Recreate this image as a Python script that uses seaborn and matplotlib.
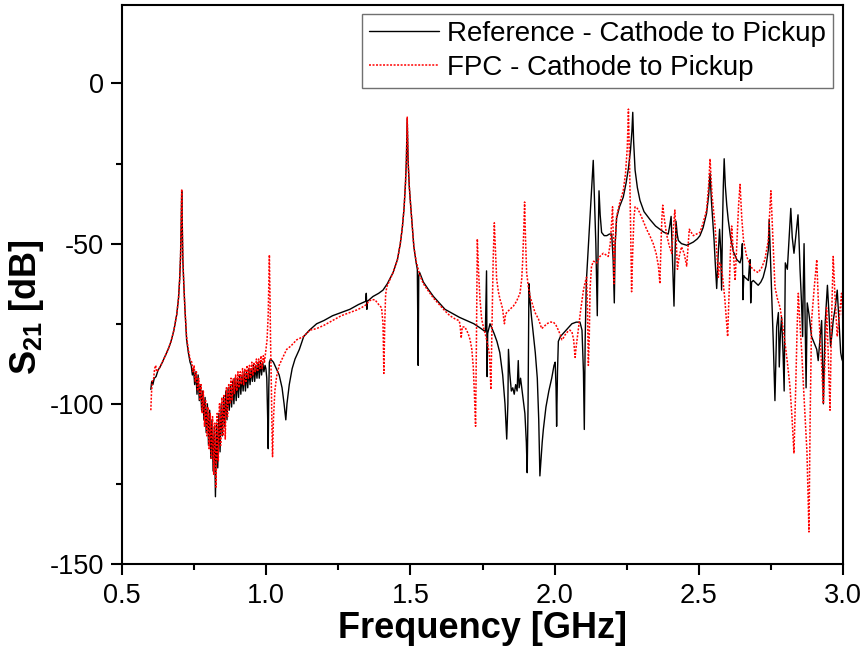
import matplotlib
matplotlib.use("Agg")
import matplotlib.pyplot as plt
from matplotlib.ticker import MultipleLocator, FormatStrFormatter
import pandas as pd
import seaborn as sns

# ---------------------------------------------------------------------------
# Transmission S21 between cathode and pickup: reference vs. FPC structure
# ---------------------------------------------------------------------------
ref_label = "Reference - Cathode to Pickup"
fpc_label = "FPC - Cathode to Pickup"

ref_freq = [
    0.600, 0.603, 0.607, 0.612, 0.618, 0.625, 0.632, 0.640, 0.650, 0.660,
    0.670, 0.680, 0.690, 0.696, 0.700, 0.703, 0.705, 0.707, 0.709, 0.711,
    0.714, 0.718, 0.724, 0.730, 0.736,
    0.740, 0.744, 0.748, 0.752, 0.756, 0.760, 0.764, 0.768, 0.772, 0.776,
    0.780, 0.784, 0.788, 0.792, 0.796, 0.800, 0.804, 0.808, 0.812, 0.816,
    0.820, 0.824, 0.828, 0.832, 0.836, 0.840, 0.844, 0.848, 0.852, 0.856,
    0.860, 0.864, 0.868, 0.872, 0.876, 0.880, 0.884, 0.888, 0.892, 0.896,
    0.900, 0.904, 0.908, 0.912, 0.916, 0.920, 0.924, 0.928, 0.932, 0.936,
    0.940, 0.944, 0.948, 0.952, 0.956, 0.960, 0.964, 0.968, 0.972, 0.976,
    0.980, 0.984, 0.988, 0.992, 0.996,
    0.999, 1.002, 1.005, 1.007, 1.009, 1.011, 1.015, 1.025, 1.035, 1.045,
    1.055, 1.062, 1.068, 1.072, 1.080, 1.090, 1.100, 1.115, 1.130, 1.150,
    1.175, 1.200, 1.230, 1.260, 1.290, 1.320, 1.345, 1.347, 1.349, 1.351,
    1.370, 1.390, 1.405, 1.420, 1.440, 1.455, 1.465, 1.472, 1.478, 1.483,
    1.486, 1.489, 1.492, 1.496, 1.500, 1.506, 1.512, 1.520, 1.524, 1.527,
    1.529, 1.532, 1.545, 1.560, 1.580, 1.600, 1.620, 1.640, 1.670, 1.695,
    1.720, 1.745, 1.760, 1.764, 1.766, 1.768, 1.776, 1.790, 1.800, 1.810,
    1.820, 1.828, 1.834, 1.838, 1.840, 1.844, 1.850, 1.855, 1.860, 1.865,
    1.870, 1.874, 1.877, 1.882, 1.890, 1.897, 1.902, 1.905, 1.908, 1.911,
    1.915, 1.920, 1.926, 1.933, 1.940, 1.945, 1.949, 1.953, 1.957, 1.961,
    1.970, 1.980, 1.990, 1.998, 2.002, 2.005, 2.007, 2.010, 2.013, 2.020,
    2.030, 2.045, 2.060, 2.075, 2.088, 2.095, 2.100, 2.103, 2.106, 2.110,
    2.117, 2.125, 2.130, 2.134, 2.138, 2.143, 2.148, 2.151, 2.154, 2.158,
    2.163, 2.172, 2.181, 2.190, 2.198, 2.203, 2.207, 2.210, 2.215, 2.225,
    2.238, 2.248, 2.256, 2.263, 2.268, 2.271, 2.274, 2.279, 2.287, 2.296,
    2.310, 2.331, 2.350, 2.365, 2.380, 2.394, 2.400, 2.404, 2.409, 2.414,
    2.418, 2.421, 2.425, 2.429, 2.440, 2.458, 2.470, 2.481, 2.495, 2.504,
    2.515, 2.527, 2.534, 2.539, 2.544, 2.553, 2.557, 2.562, 2.567, 2.572,
    2.576, 2.579, 2.582, 2.585, 2.588, 2.592, 2.597, 2.602, 2.610, 2.620,
    2.632, 2.643, 2.648, 2.651, 2.653, 2.656, 2.660, 2.666, 2.672, 2.676,
    2.678, 2.680, 2.683, 2.689, 2.700, 2.706, 2.715, 2.723, 2.733, 2.741,
    2.744, 2.748, 2.752, 2.758, 2.764, 2.767, 2.770, 2.776, 2.779, 2.783,
    2.787, 2.792, 2.796, 2.798, 2.800, 2.807, 2.812, 2.819, 2.824, 2.830,
    2.836, 2.844, 2.848, 2.851, 2.856, 2.860, 2.862, 2.865, 2.869, 2.872,
    2.876, 2.882, 2.891, 2.900, 2.909, 2.914, 2.920, 2.926, 2.932, 2.938,
    2.946, 2.952, 2.957, 2.962, 2.966, 2.973, 2.980, 2.986, 2.992, 2.996,
    3.000,
]
ref_db = [
    -95.5, -93, -94, -92, -91.5, -89.5, -88.5, -87, -85, -83,
    -80.5, -77, -72, -67, -61, -54, -45, -33.5, -45, -55,
    -62, -70, -80, -84, -87,
    -88, -91, -89, -94, -90, -97, -91, -99, -94, -102,
    -96, -105, -98, -109, -100, -113, -102, -117, -105, -121,
    -107, -129, -106, -120, -103, -115, -100, -110, -98, -107,
    -96, -105, -95, -102, -94, -101, -93, -100, -92, -99,
    -92, -98, -91, -97, -91, -96, -90, -96, -90, -95,
    -89, -94, -89, -93, -88, -93, -88, -92, -87, -92,
    -87, -91, -87, -90, -88,
    -89, -92, -104, -114, -95, -87, -86, -87, -89, -91,
    -95, -100, -105, -100, -94, -89, -86, -83, -79, -77,
    -75, -74, -72.5, -71.5, -70.5, -69, -68, -65.5, -70.5, -68,
    -66.5, -65.5, -64.5, -62.5, -59, -55, -50, -45, -39, -31,
    -24, -11, -24, -32, -37, -44, -51, -56, -58, -88,
    -60, -59, -62, -64, -66.5, -68.5, -70.5, -71.5, -73, -74,
    -75, -76.5, -77.5, -58.5, -91.5, -78, -75, -78, -80.5, -84,
    -91, -100, -111, -100, -83, -90, -96, -95, -97, -94,
    -96, -86.5, -95, -92, -98, -103, -112, -121.5, -100, -62.5,
    -68, -73, -78, -84, -92, -105, -122.5, -117, -112, -108,
    -101, -96, -92, -88, -87, -95, -107, -90, -80.5, -79,
    -78, -76.5, -75, -74.5, -74.5, -77, -90, -108, -80, -62,
    -51, -38, -30, -24, -36, -50, -72.5, -50, -33.5, -41,
    -46.5, -47.5, -47.5, -47, -47, -55, -68.5, -50, -42, -38.5,
    -35.5, -31, -26.5, -21, -15, -9, -18, -27, -32.5, -36.5,
    -40, -42.5, -44.5, -45.5, -46.5, -47, -44, -41.5, -55, -69.5,
    -52, -43, -47, -49, -50, -50.5, -50, -49.5, -48.5, -47.5,
    -45, -40.5, -35, -28, -37, -49, -56, -64, -54, -45.5,
    -52, -64.5, -45, -32, -23.5, -32, -38, -42.5, -48, -52.5,
    -55, -56, -54, -50, -67.5, -60, -60.5, -61, -61.5, -56,
    -55, -68.5, -62, -61.5, -62.5, -63, -62, -60.5, -57, -52,
    -42.5, -53, -63.5, -80, -99, -88, -76, -71.5, -88.5, -78,
    -73, -84, -96, -75, -56, -58, -50, -39, -48, -53,
    -48, -41, -50, -58, -68, -79, -65, -50, -75, -95,
    -68.5, -72, -79, -81, -83, -86.5, -80, -74, -100, -75,
    -63, -73, -82, -78, -74, -70, -64.5, -74, -84, -86,
    -87,
]

fpc_freq = [
    0.600, 0.602, 0.605, 0.610, 0.613, 0.617, 0.620, 0.625, 0.632, 0.640,
    0.650, 0.660, 0.670, 0.680, 0.690, 0.696, 0.700, 0.703, 0.705, 0.707,
    0.709, 0.711, 0.714, 0.718, 0.724, 0.730, 0.736,
    0.742, 0.746, 0.750, 0.754, 0.758, 0.762, 0.766, 0.770, 0.774, 0.778,
    0.782, 0.786, 0.790, 0.794, 0.798, 0.802, 0.806, 0.810, 0.814, 0.818,
    0.822, 0.826, 0.830, 0.834, 0.838, 0.842, 0.846, 0.850, 0.854, 0.858,
    0.862, 0.866, 0.870, 0.874, 0.878, 0.882, 0.886, 0.890, 0.894, 0.898,
    0.902, 0.906, 0.910, 0.914, 0.918, 0.922, 0.926, 0.930, 0.934, 0.938,
    0.942, 0.946, 0.950, 0.954, 0.958, 0.962, 0.966, 0.970, 0.974, 0.978,
    0.982, 0.986, 0.990, 0.994,
    0.998, 1.003, 1.007, 1.009, 1.011, 1.013, 1.015, 1.018, 1.020, 1.022,
    1.025, 1.030, 1.036, 1.045, 1.055, 1.071, 1.085, 1.106, 1.129, 1.152,
    1.175, 1.200, 1.230, 1.260, 1.290, 1.314, 1.330, 1.348, 1.355, 1.365,
    1.377, 1.390, 1.400, 1.405, 1.408, 1.411, 1.414, 1.418, 1.430, 1.440,
    1.455, 1.465, 1.472, 1.478, 1.483, 1.486, 1.489, 1.492, 1.496, 1.500,
    1.506, 1.512, 1.520, 1.533, 1.545, 1.560, 1.580, 1.600, 1.620, 1.637,
    1.655, 1.668, 1.672, 1.676, 1.680, 1.689, 1.700, 1.707, 1.713, 1.718,
    1.722, 1.726, 1.729, 1.732, 1.736, 1.741, 1.747, 1.753, 1.759, 1.767,
    1.774, 1.777, 1.779, 1.783, 1.787, 1.791, 1.795, 1.799, 1.805, 1.811,
    1.816, 1.820, 1.823, 1.826, 1.830, 1.834, 1.845, 1.857, 1.868, 1.880,
    1.886, 1.889, 1.893, 1.896, 1.899, 1.903, 1.909, 1.915, 1.925, 1.932,
    1.944, 1.955, 1.962, 1.973, 1.985, 1.996, 2.005, 2.013, 2.020, 2.025,
    2.030, 2.036, 2.045, 2.053, 2.060, 2.066, 2.071, 2.075, 2.082, 2.090,
    2.100, 2.106, 2.111, 2.114, 2.117, 2.120, 2.123, 2.128, 2.135, 2.146,
    2.157, 2.169, 2.178, 2.186, 2.193, 2.198, 2.201, 2.204, 2.206, 2.209,
    2.215, 2.225, 2.238, 2.246, 2.252, 2.256, 2.260, 2.264, 2.267, 2.271,
    2.275, 2.279, 2.287, 2.296, 2.310, 2.319, 2.330, 2.342, 2.352, 2.360,
    2.365, 2.369, 2.372, 2.375, 2.380, 2.388, 2.397, 2.406, 2.411, 2.417,
    2.421, 2.426, 2.432, 2.440, 2.449, 2.458, 2.462, 2.467, 2.474, 2.481,
    2.492, 2.504, 2.515, 2.527, 2.534, 2.539, 2.546, 2.556, 2.562, 2.568,
    2.572, 2.576, 2.582, 2.590, 2.596, 2.600, 2.605, 2.610, 2.614, 2.620,
    2.626, 2.632, 2.638, 2.643, 2.649, 2.655, 2.666, 2.675, 2.683, 2.695,
    2.706, 2.718, 2.729, 2.741, 2.746, 2.750, 2.755, 2.764, 2.772, 2.782,
    2.790, 2.799, 2.807, 2.816, 2.823, 2.830, 2.836, 2.841, 2.845, 2.850,
    2.857, 2.862, 2.868, 2.875, 2.882, 2.886, 2.891, 2.900, 2.909, 2.914,
    2.920, 2.926, 2.932, 2.938, 2.943, 2.949, 2.955, 2.960, 2.966, 2.972,
    2.980, 2.988, 2.995, 3.000,
]
fpc_db = [
    -102, -97, -93, -92, -89, -88, -90, -89.5, -88.5, -87,
    -85, -83, -80.5, -77, -72, -67, -61, -54, -45, -33,
    -45, -55, -62, -70, -79, -83, -86,
    -87, -90, -88, -93, -90, -96, -92, -99, -94, -103,
    -96, -107, -99, -110, -101, -114, -103, -117, -104, -122,
    -106, -126, -103, -118, -100, -113, -98, -110, -97, -111,
    -95, -104, -94, -100, -92, -99, -92, -97, -91, -96,
    -90, -95, -90, -94, -89, -94, -89, -93, -88, -92,
    -88, -92, -87, -91, -87, -90, -86, -90, -86, -89,
    -85, -89, -85, -87,
    -84, -80, -72, -62, -53.5, -65, -80, -95, -108, -116.5,
    -105, -96, -91.5, -88, -86, -83, -82, -80, -79, -77,
    -76.5, -75.5, -74, -72.5, -71.5, -70.7, -70, -69, -68, -67.5,
    -67.5, -69, -70, -75, -90.5, -75, -66, -63.5, -61, -59,
    -55, -50, -45, -39, -31, -24, -10.5, -24, -32, -37,
    -44, -51, -55.5, -60, -62.5, -64.5, -67, -69, -71, -72.5,
    -73.5, -74, -75, -79.5, -76, -76, -78, -80, -83, -88.5,
    -97, -107, -80, -48.5, -58, -67, -73.5, -76, -78, -81,
    -84.5, -90, -95.5, -75, -55, -43.5, -52, -61, -65, -67.5,
    -69, -70.5, -73, -75, -72, -71.5, -70.5, -69.5, -68, -65.5,
    -61, -56, -46, -37, -48, -59, -63.5, -66.5, -69.5, -71.5,
    -73.5, -76.5, -76, -75, -74.5, -74.5, -75.5, -77, -78.5, -80,
    -79.5, -78.5, -77.5, -77, -77.5, -80, -85.5, -82, -77, -71,
    -64.5, -62, -60.5, -70, -88, -80, -64, -57, -55.5, -56,
    -54, -53, -53.5, -54, -50, -43, -38.5, -50, -62.5, -52,
    -41.5, -37.5, -33.5, -28, -20, -8, -25, -48, -65, -52,
    -42, -38.5, -39, -40.5, -43.5, -45.5, -47.5, -50, -53, -57,
    -62.5, -50, -42, -38, -42, -47, -50.5, -53, -46, -39.5,
    -48, -58, -54, -51, -53, -57, -52, -45.5, -46.5, -47.5,
    -47, -46.5, -43.5, -39.5, -32, -23.5, -35, -44, -52, -60.5,
    -56, -56.5, -60, -67, -74, -79, -66, -52, -44.5, -53,
    -61.5, -50, -38, -31.5, -42, -49, -54, -56, -57.5, -58.5,
    -59, -57.5, -55, -49, -40, -33.5, -44, -63.5, -67, -70,
    -75, -81, -87, -94.5, -104, -115.5, -95, -76, -65.5, -74,
    -84, -93, -103, -115, -140, -105, -74, -64, -55, -67,
    -79, -88, -100, -85, -70, -85, -102, -75, -54, -66,
    -79, -72, -65.5, -75,
]

assert len(ref_freq) == len(ref_db)
assert len(fpc_freq) == len(fpc_db)

ref_df = pd.DataFrame({"freq": ref_freq, "db": ref_db})
fpc_df = pd.DataFrame({"freq": fpc_freq, "db": fpc_db})

sns.set_style("ticks")
plt.rcParams["font.family"] = ["Liberation Sans", "DejaVu Sans"]
plt.rcParams["mathtext.fontset"] = "custom"
plt.rcParams["mathtext.rm"] = "Liberation Sans"
plt.rcParams["mathtext.bf"] = "Liberation Sans:bold"
plt.rcParams["axes.unicode_minus"] = False
for key in ["text.color", "axes.labelcolor", "xtick.color", "ytick.color",
            "axes.edgecolor"]:
    plt.rcParams[key] = "black"

W, H = 867, 655
fig = plt.figure(figsize=(W / 100, H / 100), dpi=100)
ax = fig.add_axes([122 / W, 1 - 564 / H, (843 - 122) / W, (564 - 5) / H])

sns.lineplot(data=ref_df, x="freq", y="db", sort=False, estimator=None,
             color="black", linewidth=1.0, label=ref_label, ax=ax)
sns.lineplot(data=fpc_df, x="freq", y="db", sort=False, estimator=None,
             color="#ff0000", linewidth=1.1, linestyle=(0, (1.3, 1.0)),
             label=fpc_label, ax=ax)

ax.set_xlim(0.5, 3.0)
ax.set_ylim(-150, 24.5)
ax.xaxis.set_major_locator(MultipleLocator(0.5))
ax.xaxis.set_minor_locator(MultipleLocator(0.25))
ax.yaxis.set_major_locator(MultipleLocator(50))
ax.yaxis.set_minor_locator(MultipleLocator(25))
ax.xaxis.set_major_formatter(FormatStrFormatter("%.1f"))

for side in ["left", "bottom", "right", "top"]:
    ax.spines[side].set_visible(True)
    ax.spines[side].set_linewidth(1.5)
    ax.spines[side].set_color("black")

ax.tick_params(axis="both", which="major", direction="out", length=8,
               width=1.5, labelsize=19.5, pad=5, colors="black")
ax.tick_params(axis="both", which="minor", direction="out", length=4.5,
               width=1.5, colors="black")
ax.tick_params(axis="x", which="major", pad=6)

ax.set_xlabel("Frequency [GHz]", fontsize=26, fontweight="bold", labelpad=1)
ax.set_ylabel(r"S$_\mathbf{21}$ [dB]", fontsize=26, fontweight="bold")
ax.yaxis.set_label_coords((46 - 122) / 721, (564 - 307) / 559)

leg = ax.legend(loc="upper right", bbox_to_anchor=((833 - 122) / 721, 0.984),
                borderaxespad=0, fontsize=20, frameon=True, fancybox=False,
                framealpha=1, edgecolor="#707070", handlelength=2.5,
                handletextpad=0.3, borderpad=0.25, labelspacing=0.28)
leg.get_frame().set_linewidth(1.0)
for txt in leg.get_texts():
    txt.set_color("black")

fig.savefig("out.png", dpi=100, facecolor="white")
